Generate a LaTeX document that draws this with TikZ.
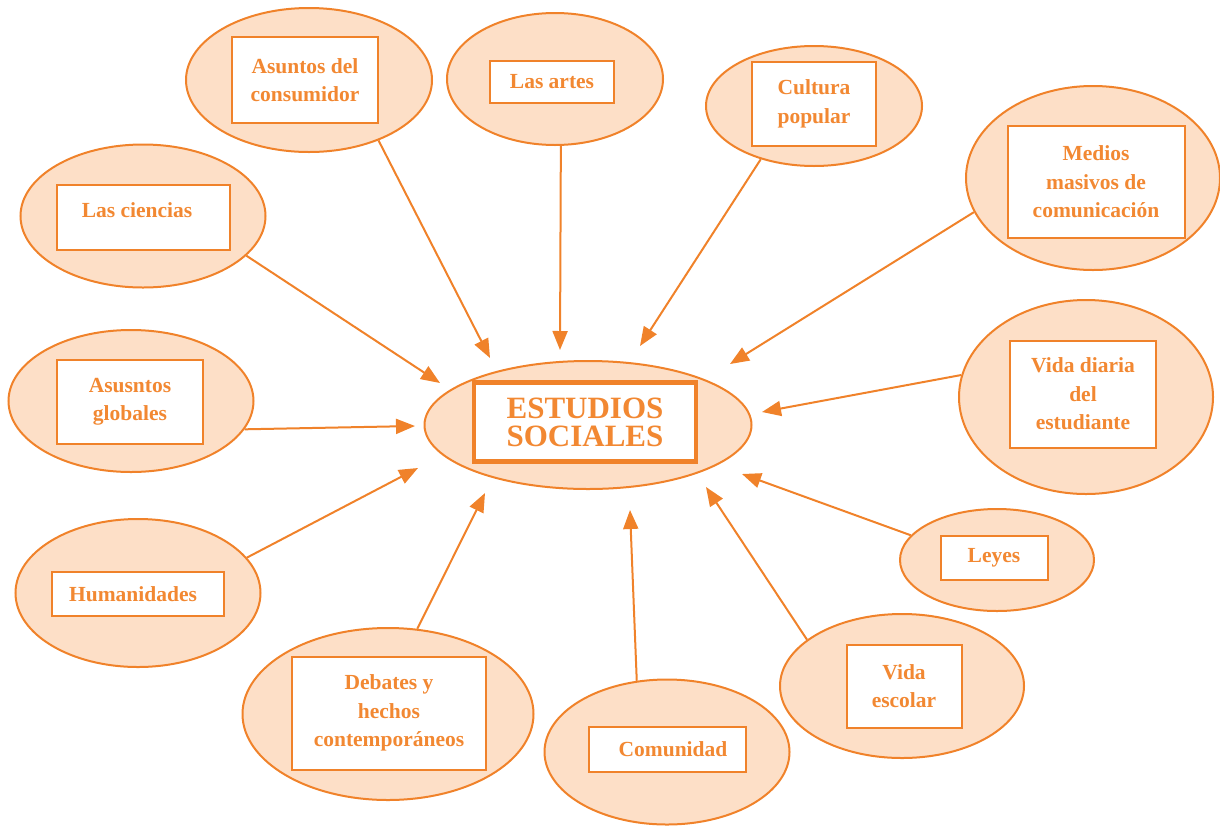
\documentclass[tikz,border=0pt]{standalone}
\usepackage{fontspec}
\setmainfont{Liberation Serif}
\usetikzlibrary{arrows.meta, shapes.geometric}
\definecolor{LineColor}{RGB}{240,130,42}
\definecolor{BubbleColor}{RGB}{253,223,199}
\definecolor{TextColor}{RGB}{242,136,50}
\tikzstyle{arrow} = [line width=2pt, LineColor, -{Triangle[length=19pt,width=15pt]}]
\tikzset{
  bubble/.style={ellipse, draw=LineColor, line width=2pt, fill=BubbleColor, inner sep=0pt},
  topic box/.style={rectangle, draw=LineColor, line width=2pt, fill=white, align=center, inner sep=0pt,
    text=TextColor, font=\bfseries\fontsize{21.5}{28.5}\selectfont},
  main box/.style={topic box, line width=4.5pt, font=\bfseries\fontsize{31}{28}\selectfont}
}

\begin{document}
\begin{tikzpicture}[x=1pt, y=-1pt]
  \useasboundingbox (0,0) rectangle (1220,825);

  % Central topic
  \node[bubble, minimum width=327pt, minimum height=128pt] (estudios) at (588,425) {};
  \node[main box, minimum width=222pt, minimum height=79pt] (estudiosBox) at (585,422) {ESTUDIOS\\SOCIALES};

  % Topics, top row
  \node[bubble, minimum width=246pt, minimum height=144pt] (consumidor) at (309,80) {};
  \node[topic box, minimum width=146pt, minimum height=86pt] (consumidorBox) at (305,80) {Asuntos del\\consumidor};

  \node[bubble, minimum width=216pt, minimum height=132pt] (artes) at (555,79) {};
  \node[topic box, minimum width=124pt, minimum height=42pt] (artesBox) at (552,82) {Las artes};

  \node[bubble, minimum width=216pt, minimum height=120pt] (cultura) at (814,106) {};
  \node[topic box, minimum width=124pt, minimum height=84pt] (culturaBox) at (814,104) {Cultura\\popular};

  % Topics, right side
  \node[bubble, minimum width=254pt, minimum height=184pt] (medios) at (1093,178) {};
  \node[topic box, minimum width=177pt, minimum height=112pt] (mediosBox) at (1096,182) {Medios\\masivos de\\comunicación};

  \node[bubble, minimum width=254pt, minimum height=194pt] (diaria) at (1086,397) {};
  \node[topic box, minimum width=146pt, minimum height=107pt] (diariaBox) at (1083,394) {Vida diaria\\del\\estudiante};

  \node[bubble, minimum width=194pt, minimum height=102pt] (leyes) at (997,560) {};
  \node[topic box, minimum width=107pt, minimum height=44pt] (leyesBox) at (994,558) {Leyes};

  % Topics, bottom row
  \node[bubble, minimum width=244pt, minimum height=144pt] (escolar) at (902,686) {};
  \node[topic box, minimum width=115pt, minimum height=83pt] (escolarBox) at (904,686) {Vida\\escolar};

  \node[bubble, minimum width=245pt, minimum height=145pt] (comunidad) at (667,752) {};
  \node[topic box, minimum width=157pt, minimum height=45pt] (comunidadBox) at (667,749) {\hspace*{12pt}Comunidad};

  \node[bubble, minimum width=291pt, minimum height=172pt] (debates) at (388,714) {};
  \node[topic box, minimum width=194pt, minimum height=113pt] (debatesBox) at (389,713) {Debates y\\hechos\\contemporáneos};

  % Topics, left side
  \node[bubble, minimum width=245pt, minimum height=148pt] (humanidades) at (138,593) {};
  \node[topic box, minimum width=172pt, minimum height=44pt] (humanidadesBox) at (138,594) {Humanidades\hspace*{10pt}};

  \node[bubble, minimum width=245pt, minimum height=142pt] (globales) at (131,401) {};
  \node[topic box, minimum width=146pt, minimum height=84pt] (globalesBox) at (130,402) {Asusntos\\globales};

  \node[bubble, minimum width=245pt, minimum height=143pt] (ciencias) at (143,216) {};
  \node[topic box, minimum width=173pt, minimum height=65pt] (cienciasBox) at (143,217) {Las ciencias\hspace*{12pt}\\[-14pt]\mbox{}};

  % Arrow tips near the centre
  \coordinate (tipConsumidor) at (490,358);
  \coordinate (tipArtes) at (560,350);
  \coordinate (tipCultura) at (640,346);
  \coordinate (tipMedios) at (730,364);
  \coordinate (tipDiaria) at (762,412);
  \coordinate (tipLeyes) at (742,474);
  \coordinate (tipEscolar) at (706,487);
  \coordinate (tipComunidad) at (630,510);
  \coordinate (tipDebates) at (485,493);
  \coordinate (tipHumanidades) at (418,468);
  \coordinate (tipGlobales) at (415,426);
  \coordinate (tipCiencias) at (440,383);

  % Arrows
  \draw[arrow] (consumidor.-41) -- (tipConsumidor);
  \draw[arrow] (artes.-85) -- (tipArtes);
  \draw[arrow] (cultura.-135) -- (tipCultura);
  \draw[arrow] (medios.-164) -- (tipMedios);
  \draw[arrow] (diaria.170) -- (tipDiaria);
  \draw[arrow] (leyes.164) -- (tipLeyes);
  \draw[arrow] (escolar.154) -- (tipEscolar);
  \draw[arrow] (comunidad.113) -- (tipComunidad);
  \draw[arrow] (debates.71) -- (tipDebates);
  \draw[arrow] (humanidades.18) -- (tipHumanidades);
  \draw[arrow] (globales.-14) -- (tipGlobales);
  \draw[arrow] (ciencias.-21) -- (tipCiencias);
\end{tikzpicture}
\end{document}
